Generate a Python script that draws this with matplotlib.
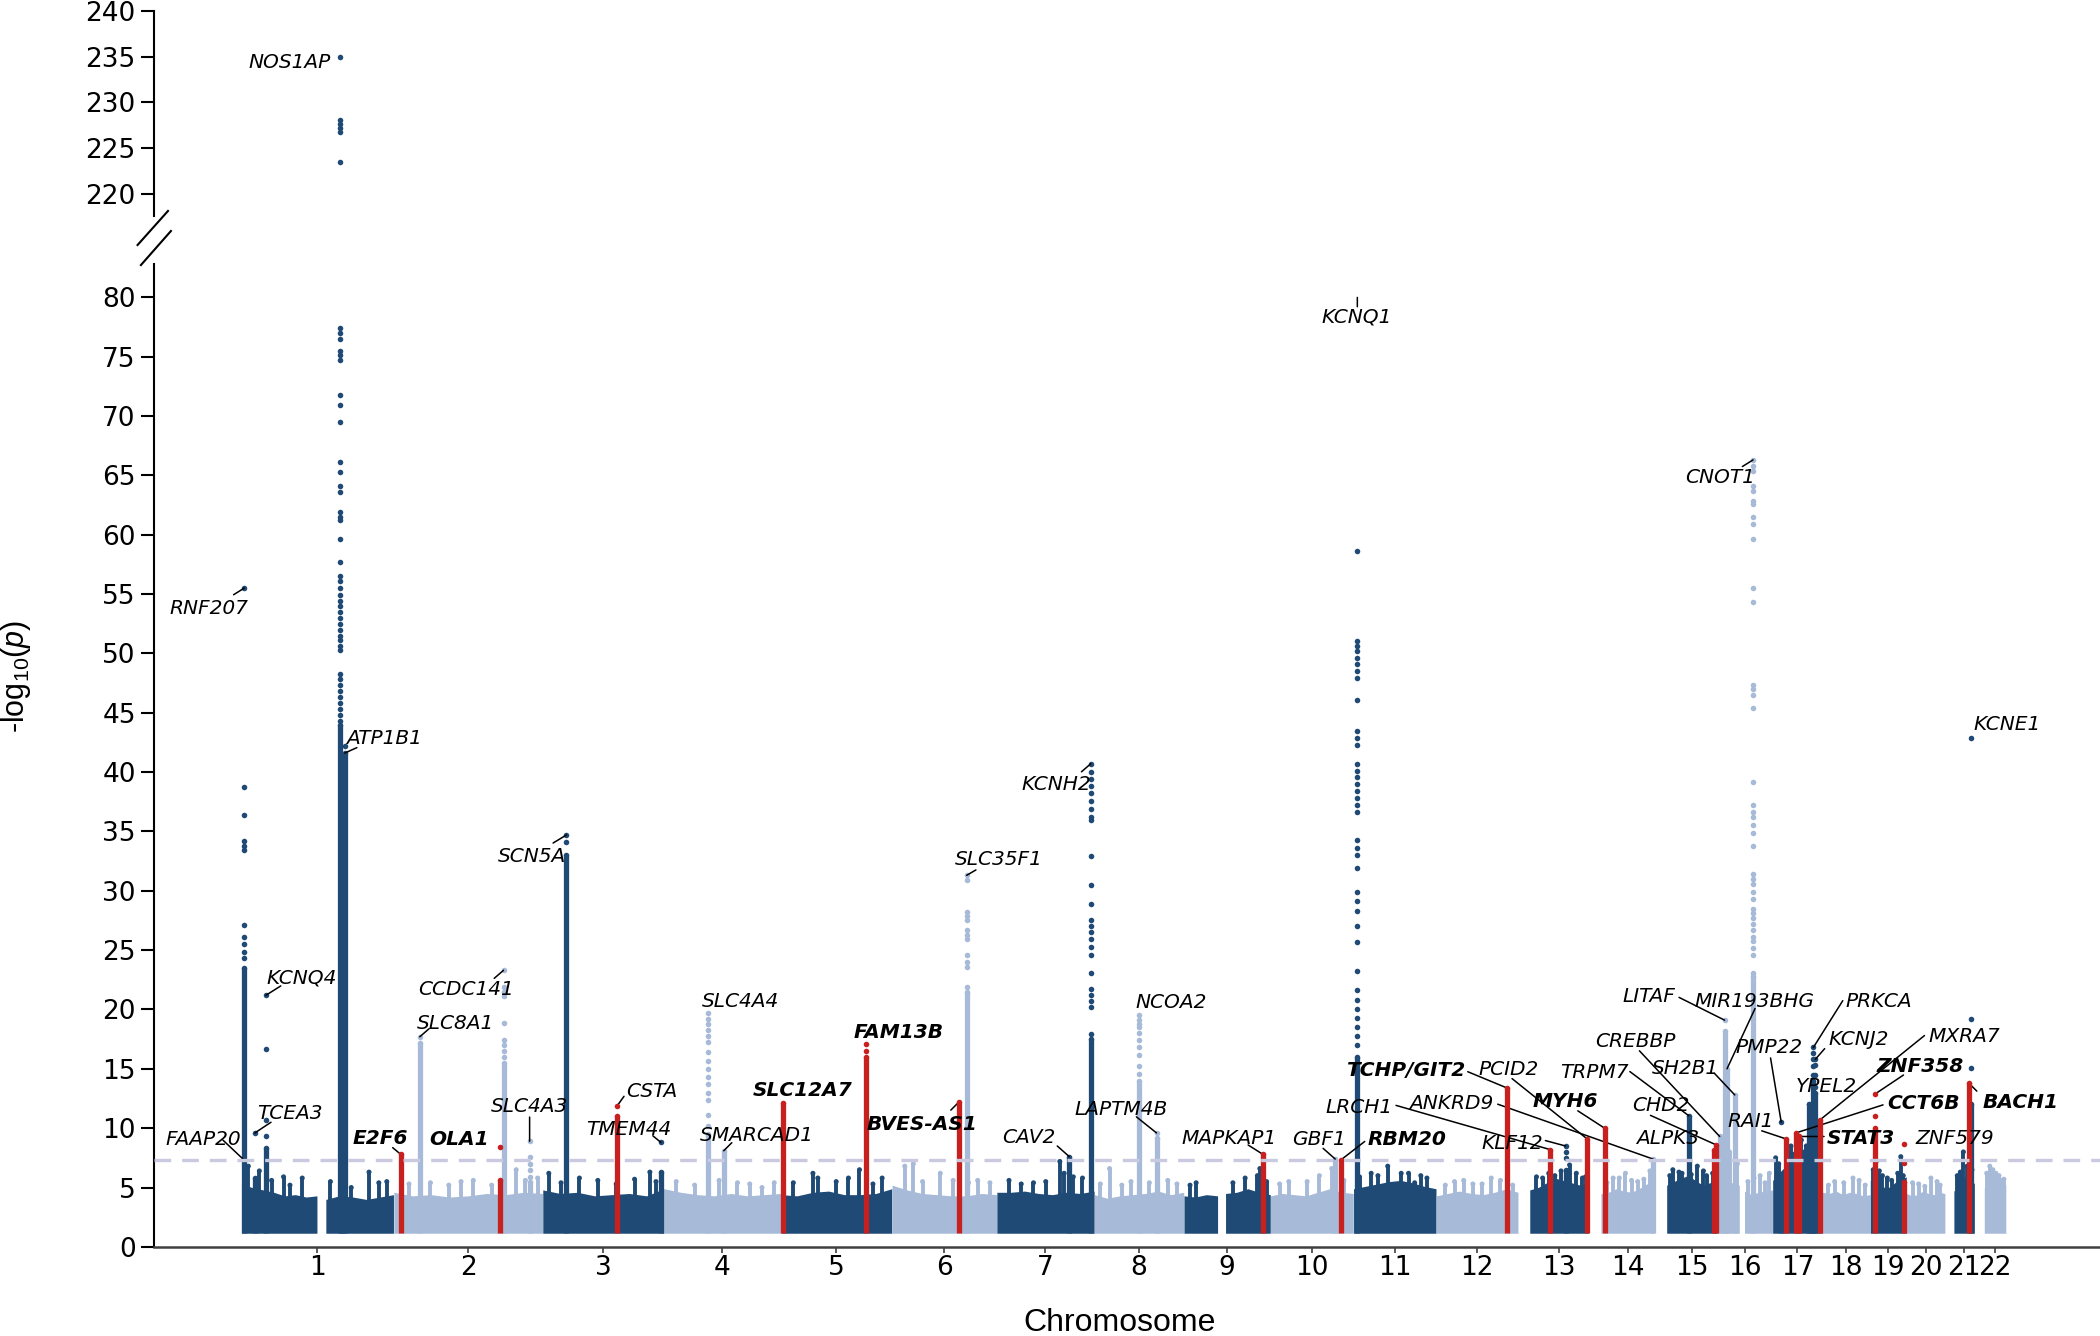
import numpy as np
import matplotlib
matplotlib.use('Agg')
import matplotlib.pyplot as plt
from matplotlib.lines import Line2D

plt.rcParams['mathtext.fontset'] = 'custom'
plt.rcParams['mathtext.rm'] = 'Liberation Sans'
plt.rcParams['mathtext.it'] = 'Liberation Sans:italic'

DARK = '#1e4a75'
LIGHT = '#a7bad8'
RED = '#c8201e'
SIG = '#c9c9e0'

# chromosome lengths (Mb) and the first position that carries SNPs
chrom_len = [249.25, 243.20, 198.02, 191.15, 180.92, 171.12, 159.14, 146.36, 141.21, 135.53, 135.01,
             133.85, 115.17, 107.35, 102.53, 90.35, 81.20, 78.08, 59.13, 63.03, 48.13, 51.30]
chrom_first = [0.8, 0.2, 0.2, 0.2, 0.2, 0.2, 0.2, 0.2, 0.2, 0.2, 0.2,
               0.2, 19.0, 20.0, 20.0, 0.1, 0.1, 0.1, 0.2, 0.1, 14.5, 16.0]
chrom_labels = [str(i) for i in range(1, 23)]

# bulk of non-significant SNPs: envelope heights along each block
bg_chr = [1, 1, 2, 3, 4, 5, 6, 7, 8, 9, 9, 10, 11, 12, 13, 14, 15, 16, 16, 17, 18, 19, 20, 21, 22]
bg_from = [0.8, 138.5, 0.2, 0.2, 0.2, 0.2, 0.2, 0.2, 0.2, 0.2, 68.0, 0.2, 0.2, 0.2, 19.0, 20.0, 20.0,
           0.1, 44.5, 0.1, 0.1, 0.2, 0.1, 14.5, 16.0]
bg_to = [124.0, 248.9, 243.0, 197.8, 190.9, 180.7, 170.9, 158.9, 146.1, 55.0, 141.0, 135.3, 134.8,
         133.6, 114.9, 107.1, 102.3, 36.0, 90.1, 81.0, 77.9, 58.9, 62.8, 47.9, 51.1]
bg_top = [
    [5.3, 5.0, 4.8, 4.6, 4.3, 4.4, 4.2, 4.3],
    [4.0, 4.3, 4.2, 4.0, 4.2, 4.4],
    [4.6, 4.3, 4.4, 4.2, 4.3, 4.5, 4.4, 4.6, 4.5],
    [4.8, 4.5, 4.6, 4.3, 4.4, 4.5, 4.3, 4.9],
    [4.9, 4.6, 4.4, 4.3, 4.5, 4.3, 4.4, 4.5],
    [4.4, 4.3, 4.6, 4.7, 4.4, 4.4, 4.5, 4.9],
    [5.2, 4.8, 4.5, 4.4, 4.3, 4.3, 4.5, 4.4],
    [4.6, 4.6, 4.7, 4.5, 4.4, 4.6, 4.5, 4.7],
    [4.4, 4.1, 4.3, 4.4, 4.5, 4.7, 4.4, 4.6],
    [4.3, 4.2, 4.4, 4.3],
    [4.5, 4.6, 4.9, 4.6, 4.4],
    [4.3, 4.5, 4.4, 4.3, 4.6, 4.9, 4.6, 4.5],
    [4.9, 5.1, 5.3, 5.5, 5.6, 5.4, 5.1, 4.9],
    [4.3, 4.5, 4.7, 4.5, 4.4, 4.6, 4.9, 4.6],
    [4.8, 5.0, 5.4, 5.8, 5.6, 5.4, 5.2, 5.4],
    [4.5, 4.6, 4.9, 4.7, 4.6, 4.9, 5.3, 5.5],
    [5.2, 5.5, 5.8, 6.0, 5.6, 5.2, 5.4, 5.6],
    [5.8, 5.6, 5.4, 5.2],
    [4.7, 4.4, 4.6, 4.7, 4.8],
    [5.6, 6.3, 6.9, 7.0, 6.6, 6.1, 5.7, 5.3],
    [4.6, 4.5, 4.7, 4.4, 4.6, 4.5, 4.3, 4.4],
    [5.6, 5.9, 5.3, 4.9, 5.1, 5.5, 5.7, 5.9],
    [4.5, 4.3, 4.4, 4.7, 4.5, 4.4, 4.6, 4.5],
    [4.7, 5.1, 5.5, 6.1, 5.9, 5.3],
    [5.0, 5.2, 5.4, 5.8, 6.0, 5.6, 5.2],
]

# small sub-threshold towers (chromosome, Mb, top)
spike_chr = [1, 1, 1, 1, 1, 1, 1, 1, 1, 1, 1,
             2, 2, 2, 2, 2, 2, 2, 2, 2,
             3, 3, 3, 3, 3, 3, 3, 3,
             4, 4, 4, 4, 4, 4, 4,
             5, 5, 5, 5, 5, 5, 5, 5,
             6, 6, 6, 6, 6, 6, 6, 6,
             7, 7, 7, 7, 7, 7, 7, 7,
             8, 8, 8, 8, 8, 8, 8,
             9, 9, 9, 9, 9, 9, 9,
             10, 10, 10, 10, 10, 10,
             11, 11, 11, 11, 11, 11, 11, 11, 11,
             12, 12, 12, 12, 12, 12, 12, 12,
             13, 13, 13, 13, 13, 13, 13, 13, 13,
             14, 14, 14, 14, 14, 14, 14, 14,
             15, 15, 15, 15, 15, 15, 15, 15, 15,
             16, 16, 16, 16, 16, 16, 16, 16,
             17, 17, 17, 17, 17, 17, 17, 17, 17, 17, 17, 17,
             18, 18, 18, 18, 18, 18,
             19, 19, 19, 19, 19, 19, 19, 19, 19,
             20, 20, 20, 20, 20, 20,
             21, 21, 21, 21, 21, 21,
             22, 22, 22, 22, 22, 22, 22]
spike_pos = [12, 30, 50, 69.5, 80, 100, 146, 180, 209, 225, 238,
             25, 60, 90, 110, 130, 160, 200, 215, 235,
             10, 30, 60, 90, 120, 150, 175, 185,
             20, 50, 90, 120, 140, 160, 180,
             20, 52, 60, 90, 110, 128, 150, 165,
             21, 35, 50, 79, 100, 125, 140, 160,
             20, 40, 60, 80, 103, 110, 125, 140,
             10, 25, 45, 60, 90, 120, 135,
             10, 20, 80, 100, 120, 124, 135,
             15, 30, 60, 80, 100, 120,
             10, 29, 40, 56, 78, 90, 100, 110, 120,
             15, 30, 45, 60, 75, 90, 105, 125,
             30, 40, 50, 60, 70, 84, 95, 105, 110,
             30, 40, 50, 60, 70, 80, 90, 100,
             25, 30, 40, 45, 60, 70, 80, 85, 95,
             5, 20, 33, 50, 60, 70, 78, 85,
             5, 10, 25, 30, 35, 47, 52, 55, 60, 63, 72, 76,
             10, 20, 35, 50, 60, 70,
             5, 10, 15, 20, 28, 35, 45, 50, 54,
             10, 20, 30, 40, 50, 55,
             20, 25, 30, 36, 40, 44,
             20, 25, 30, 35, 40, 45, 48]
spike_top = [6.8, 6.4, 5.6, 5.9, 5.2, 5.8, 5.5, 5.0, 6.3, 5.4, 5.5,
             5.3, 5.4, 5.2, 5.5, 5.6, 5.2, 6.5, 5.6, 5.8,
             6.2, 5.4, 5.8, 5.6, 5.3, 5.7, 6.3, 5.5,
             5.5, 5.2, 5.6, 5.4, 5.3, 5.0, 5.4,
             5.4, 6.2, 5.8, 5.5, 5.8, 6.5, 5.3, 5.8,
             6.8, 7.0, 5.5, 6.2, 5.6, 5.4, 5.6, 5.4,
             5.6, 5.3, 5.4, 5.5, 7.2, 6.2, 5.9, 5.8,
             5.3, 6.6, 5.2, 5.5, 5.4, 5.6, 5.3,
             5.2, 5.4, 5.4, 5.8, 6.0, 6.6, 5.5,
             5.3, 5.5, 5.5, 6.0, 6.6, 5.6,
             5.9, 6.2, 6.0, 6.8, 6.2, 6.2, 5.4, 6.0, 5.8,
             5.2, 5.5, 5.6, 5.3, 5.3, 5.8, 5.6, 5.2,
             5.9, 5.8, 6.2, 6.0, 6.4, 6.9, 6.2, 5.8, 5.9,
             5.4, 5.8, 5.8, 6.2, 5.6, 5.5, 5.7, 6.4,
             6.0, 6.5, 6.3, 6.2, 6.1, 6.8, 6.4, 6.0, 6.2,
             6.3, 8.0, 7.0, 5.5, 5.8, 6.0, 5.4, 6.2,
             7.5, 7.0, 8.0, 8.5, 7.8, 9.0, 8.0, 8.5, 12.0, 11.0, 9.0, 7.5,
             5.2, 5.5, 5.4, 5.8, 5.6, 5.2,
             6.5, 7.2, 6.4, 6.0, 5.8, 5.6, 6.2, 7.6, 6.0,
             5.4, 5.3, 5.1, 5.8, 5.5, 5.2,
             6.0, 6.3, 8.0, 6.8, 6.4, 6.5,
             6.2, 6.8, 6.5, 6.2, 6.0, 5.6, 5.7]

# associated loci: dense column top and the separate SNPs above it
peak_gene = ['FAAP20', 'TCEA3', 'KCNQ4', 'NOS1AP', 'ATP1B1', '', 'E2F6', 'SLC8A1', 'OLA1', 'CCDC141',
             'SLC4A3', 'SCN5A', 'CSTA', 'TMEM44', 'SLC4A4', 'SMARCAD1', 'SLC12A7', 'FAM13B', 'BVES-AS1',
             'SLC35F1', 'CAV2', 'KCNH2', 'NCOA2', 'LAPTM4B', 'MAPKAP1', 'GBF1', 'RBM20', 'KCNQ1',
             'TCHP/GIT2', 'LRCH1', 'KLF12', 'PCID2', 'MYH6', 'ANKRD9', 'TRPM7', 'ALPK3', 'CHD2', 'CREBBP',
             'LITAF', 'MIR193BHG', 'SH2B1', 'CNOT1', 'PMP22', 'RAI1', 'CCT6B', 'STAT3', '', '',
             'PRKCA', 'KCNJ2', 'MXRA7', 'ZNF358', 'ZNF579', 'BACH1', 'KCNE1']
peak_chr = [1, 1, 1, 1, 1, 1, 2, 2, 2, 2, 2, 3, 3, 3, 4, 4, 5, 5, 6, 6, 7, 7, 8, 8, 9, 10, 10, 11, 12,
            13, 13, 13, 14, 14, 15, 15, 15, 16, 16, 16, 16, 16, 17, 17, 17, 17, 17, 17, 17, 17, 17,
            19, 19, 21, 21]
peak_pos = [5.4, 22.7, 40.9, 161.8, 169.4, 165.5, 11.5, 42.6, 173.7, 179.3, 221.9, 38.8, 121.9, 193.0,
            72.5, 97.6, 3.5, 138.3, 109.3, 122.0, 118.5, 153.5, 73.3, 101.7, 128.9, 105.8, 114.5, 6.4,
            115.1, 52.1, 77.4, 112.5, 26.0, 105.0, 56.0, 97.0, 100.5, 4.0, 12.0, 15.9, 28.6, 58.5,
            14.1, 21.7, 38.1, 42.5, 60.0, 63.0, 66.5, 69.8, 77.4, 8.6, 56.0, 38.8, 42.1]
peak_red = [False, False, False, False, False, False, True, False, True, False, False, False, True, False,
            False, False, True, True, True, False, False, False, False, False, True, False, True, False,
            True, True, False, True, True, False, False, True, True, False, False, False, False, False,
            False, True, True, True, False, False, False, False, True, True, True, True, False]
peak_dense_top = [23.5, 5.8, 8.3, 44.0, 41.6, 30.0, 7.8, 17.2, 5.6, 15.5, 5.5, 33.0, 11.0, 6.3,
                  9.5, 8.1, 12.1, 16.0, 12.2, 21.5, 7.6, 17.5, 14.0, 9.2, 7.8, 7.4, 7.3, 16.0,
                  13.4, 8.2, 6.5, 9.1, 10.0, 7.4, 11.05, 8.2, 8.6, 9.3, 18.2, 15.0, 12.8, 22.8,
                  5.0, 9.1, 9.6, 9.3, 12.0, 11.0, 14.0, 13.0, 10.7, 10.0, 5.5, 13.8, 12.0]
peak_dots = [
    [24.3, 24.8, 25.5, 26.1, 27.1, 33.4, 33.8, 34.2, 36.4, 38.7, 55.5],
    [9.6],
    [9.3, 10.7, 16.7, 21.2],
    [44.3, 44.8, 45.3, 45.8, 46.3, 46.8, 47.3, 47.8, 48.3, 50.3, 50.6, 51.1, 51.5, 52.0, 52.5, 53.0,
     53.5, 54.0, 54.4, 54.9, 55.5, 56.1, 56.5, 57.7, 59.6, 61.2, 61.5, 61.9, 63.6, 64.1, 65.3, 66.1,
     69.5, 70.9, 71.8, 74.7, 75.1, 75.5, 76.5, 77.0, 77.4, 223.5, 226.8, 227.2, 227.6, 228.1, 235.0],
    [42.2],
    [31.5, 33.0, 35.2, 37.0],
    [],
    [17.7],
    [8.4],
    [16.0, 16.5, 17.0, 17.4, 18.9, 21.1, 21.5, 21.9, 23.3],
    [5.9, 6.5, 7.0, 7.6, 8.9],
    [34.1, 34.7],
    [11.9],
    [8.8],
    [10.2, 11.1, 12.4, 13.0, 13.7, 14.3, 15.0, 15.7, 16.4, 17.3, 17.8, 18.3, 18.8, 19.2, 19.7],
    [],
    [],
    [16.5, 17.1],
    [],
    [21.9, 23.6, 24.0, 24.6, 25.9, 26.3, 26.7, 27.5, 27.9, 28.2, 30.9, 31.3],
    [],
    [17.9, 20.2, 20.7, 21.2, 21.7, 23.1, 24.6, 25.3, 25.9, 26.5, 27.0, 27.5, 28.9, 30.5, 32.9, 36.0,
     36.2, 36.9, 37.6, 38.2, 38.8, 39.4, 40.0, 40.7],
    [14.6, 15.2, 16.2, 16.8, 17.4, 18.0, 18.5, 18.8, 19.1, 19.5],
    [9.6],
    [],
    [],
    [],
    [17.0, 17.8, 18.5, 19.3, 20.0, 20.8, 21.6, 23.2, 25.7, 27.0, 28.3, 29.1, 29.9, 31.9, 33.0, 33.6,
     34.3, 36.6, 37.2, 37.8, 38.4, 39.0, 39.6, 40.1, 40.7, 42.3, 42.9, 43.5, 46.1, 47.9, 48.5, 49.1,
     49.6, 50.2, 50.6, 51.0, 58.6],
    [],
    [],
    [7.5, 8.0, 8.5],
    [],
    [],
    [],
    [],
    [],
    [],
    [],
    [19.1],
    [],
    [],
    [23.1, 24.6, 25.2, 25.8, 26.1, 26.7, 27.2, 27.7, 28.1, 28.5, 29.3, 29.9, 30.6, 31.0, 31.4, 33.8,
     34.9, 35.5, 36.2, 36.6, 37.2, 39.2, 45.4, 46.5, 47.0, 47.3, 54.3, 55.5, 59.6, 60.9, 61.5, 62.6,
     62.8, 63.7, 64.1, 65.4, 65.8, 66.3],
    [10.5],
    [],
    [],
    [],
    [],
    [],
    [14.5, 15.2, 15.8, 16.3, 16.8],
    [13.5, 14.5, 15.3, 15.8],
    [],
    [11.0, 12.9],
    [7.1, 8.7],
    [],
    [15.1, 19.2, 42.9],
]

# gene labels: which SNP each label points at
label_text = ['NOS1AP', 'RNF207', 'ATP1B1', 'KCNQ4', 'TCEA3', 'FAAP20', 'E2F6', 'OLA1', 'SLC8A1',
              'CCDC141', 'SLC4A3', 'SCN5A', 'CSTA', 'TMEM44', 'SLC4A4', 'SMARCAD1', 'SLC12A7', 'FAM13B',
              'BVES-AS1', 'SLC35F1', 'CAV2', 'KCNH2', 'NCOA2', 'LAPTM4B', 'MAPKAP1', 'GBF1', 'RBM20',
              'KCNQ1', 'LRCH1', 'TCHP/GIT2', 'ANKRD9', 'PCID2', 'MYH6', 'KLF12', 'TRPM7', 'CHD2', 'ALPK3',
              'CREBBP', 'SH2B1', 'LITAF', 'MIR193BHG', 'CNOT1', 'PMP22', 'RAI1', 'PRKCA', 'KCNJ2',
              'YPEL2', 'MXRA7', 'ZNF358', 'CCT6B', 'STAT3', 'ZNF579', 'BACH1', 'KCNE1']
label_chr = [1, 1, 1, 1, 1, 1, 2, 2, 2, 2, 2, 3, 3, 3, 4, 4, 5, 5, 6, 6, 7, 7, 8, 8, 9, 10, 10, 11, 13,
             12, 14, 13, 14, 13, 15, 15, 15, 16, 16, 16, 16, 16, 17, 17, 17, 17, 17, 17, 19, 17, 17,
             19, 21, 21]
label_pos = [161.8, 5.4, 169.4, 40.9, 22.7, 5.4, 11.5, 173.7, 42.6, 179.3, 221.9, 38.8, 121.9, 193.0,
             72.5, 97.6, 3.5, 138.3, 109.3, 122.0, 118.5, 153.5, 73.3, 101.7, 128.9, 105.8, 114.5, 6.4,
             52.1, 115.1, 105.0, 112.5, 26.0, 77.4, 56.0, 100.5, 97.0, 4.0, 28.6, 12.0, 15.9, 58.5,
             14.1, 21.7, 66.5, 69.8, 66.5, 77.4, 8.6, 38.1, 42.5, 56.0, 38.8, 42.1]
label_val = [235.0, 55.5, 41.6, 21.2, 9.6, 7.3, 7.8, 8.4, 17.7, 23.3, 8.9, 34.7, 11.9, 8.8, 19.7, 8.1,
             12.1, 17.1, 12.2, 31.3, 7.6, 40.7, 19.5, 9.6, 7.8, 7.4, 7.3, 79.2, 8.2, 13.4, 7.4, 9.1,
             10.0, 8.5, 11.05, 8.6, 8.2, 9.3, 12.8, 19.1, 15.0, 66.3, 10.5, 9.1, 16.8, 15.8, 16.8, 10.7,
             12.9, 9.6, 9.3, 8.7, 13.8, 42.9]
label_bold = ['E2F6', 'OLA1', 'SLC12A7', 'FAM13B', 'BVES-AS1', 'RBM20', 'TCHP/GIT2', 'MYH6',
              'ZNF358', 'CCT6B', 'STAT3', 'BACH1']

# label placement: alignment, text offset (pt, to text centre), leader start offset (pt)
label_layout = {
    'NOS1AP': ('right', -6.7, -2.9, None), 'RNF207': ('left', -54.0, -13.5, (-7.7, -4.8)),
    'ATP1B1': ('left', 1.0, 11.6, (8.7, 3.9)), 'KCNQ4': ('left', 0.0, 13.5, (10.6, 6.7)),
    'TCEA3': ('left', 1.9, 15.4, (11.6, 7.7)), 'FAAP20': ('left', -56.9, 16.4, (-15.4, 14.5)),
    'E2F6': ('left', -34.7, 12.5, (-5.8, 4.8)), 'OLA1': ('left', -51.1, 6.7, None),
    'SLC8A1': ('left', -1.9, 10.6, (6.7, 5.8)), 'CCDC141': ('left', -61.7, -12.5, (-6.7, -5.8)),
    'SLC4A3': ('left', -28.0, 26.0, (0.0, 17.4)), 'SCN5A': ('left', -49.2, -14.5, (-9.6, -5.8)),
    'CSTA': ('left', 6.7, 11.6, (4.8, 6.7)), 'TMEM44': ('left', -54.0, 10.6, (-5.8, 4.8)),
    'SLC4A4': ('left', -4.8, 9.6, None), 'SMARCAD1': ('left', -17.4, 12.5, (5.8, 5.8)),
    'SLC12A7': ('left', -22.2, 10.6, None), 'FAM13B': ('left', -8.7, 9.6, None),
    'BVES-AS1': ('left', -66.5, -14.5, (-5.8, -5.8)), 'SLC35F1': ('left', -8.7, 12.5, (6.7, 3.9)),
    'CAV2': ('left', -48.2, 15.4, (-8.7, 7.7)), 'KCNH2': ('left', -50.1, -13.5, (-6.7, -5.8)),
    'NCOA2': ('left', -2.9, 10.6, None), 'LAPTM4B': ('left', -58.8, 18.3, (-14.5, 11.6)),
    'MAPKAP1': ('left', -58.8, 12.5, (-10.6, 6.7)), 'GBF1': ('left', -30.8, 15.4, (-8.7, 7.7)),
    'RBM20': ('left', 19.3, 16.4, (17.4, 13.5)), 'KCNQ1': ('left', -26.0, -5.8, (0.0, 6.7)),
    'LRCH1': ('left', -162.0, 31.8, (-110.9, 31.8)), 'TCHP/GIT2': ('left', -115.7, 13.5, (-28.0, 11.6)),
    'ANKRD9': ('left', -175.4, 41.5, (-111.8, 39.5)), 'PCID2': ('left', -78.1, 51.1, (-54.0, 43.4)),
    'MYH6': ('left', -52.1, 20.2, (-19.3, 12.5)), 'KLF12': ('left', -60.7, 2.9, (-14.5, 3.9)),
    'TRPM7': ('left', -92.5, 32.8, (-42.4, 31.8)), 'CHD2': ('left', -60.7, 29.9, (-47.2, 21.2)),
    'ALPK3': ('left', -55.9, 9.6, None), 'CREBBP': ('left', -89.7, 70.0, (-57.8, 61.7)),
    'SH2B1': ('left', -59.8, 20.2, (-14.5, 15.4)), 'LITAF': ('left', -73.3, 18.3, (-32.8, 16.4)),
    'MIR193BHG': ('left', -23.1, 50.1, (20.2, 43.4)), 'CNOT1': ('left', -49.2, -11.6, (-7.7, -4.8)),
    'PMP22': ('left', -32.8, 54.9, (-7.7, 46.3)), 'RAI1': ('left', -42.4, 13.5, (-17.4, 5.8)),
    'PRKCA': ('left', 23.1, 34.7, (21.2, 33.7)), 'KCNJ2': ('left', 9.6, 15.4, (6.7, 7.7)),
    'YPEL2': ('left', -12.5, -27.0, None), 'MXRA7': ('left', 78.1, 61.7, (75.2, 60.7)),
    'ZNF358': ('left', 1.0, 21.2, (20.2, 13.5)), 'CCT6B': ('left', 65.6, 22.2, (62.7, 20.2)),
    'STAT3': ('left', 20.2, 0.0, (18.3, 0.0)), 'ZNF579': ('left', 7.7, 4.8, None),
    'BACH1': ('left', 9.6, -12.5, (5.8, -5.8)), 'KCNE1': ('left', 1.9, 10.6, None),
}

BASE = 1.15
SIG_LINE = 7.3
LO_TOP = 82.8

chrom_offset = np.concatenate([[0.0], np.cumsum(chrom_len)[:-1]])


def gx(c, pos):
    return chrom_offset[c - 1] + pos


def chrom_color(c):
    return DARK if c % 2 == 1 else LIGHT


fig = plt.figure(figsize=(21, 13.36), dpi=100)
ax_lo = fig.add_axes([0.0733, 0.0667, 0.9267, 0.7357])
ax_hi = fig.add_axes([0.0733, 0.8383, 0.9267, 0.1537], sharex=ax_lo)

# background blocks
for c, a, b, tops in zip(bg_chr, bg_from, bg_to, bg_top):
    xs = np.linspace(gx(c, a), gx(c, b), len(tops))
    ax_lo.fill_between(xs, BASE, tops, color=chrom_color(c), lw=0, zorder=1)

sx = [gx(c, p) for c, p in zip(spike_chr, spike_pos)]
scol = [chrom_color(c) for c in spike_chr]
ax_lo.vlines(sx, BASE, spike_top, colors=scol, lw=2.8, zorder=2)
ax_lo.scatter(sx, spike_top, s=13, c=scol, lw=0, zorder=2)

# peaks
for c, p, red, top, dots in zip(peak_chr, peak_pos, peak_red, peak_dense_top, peak_dots):
    x = gx(c, p)
    col = RED if red else chrom_color(c)
    z = 4 if red else 3
    ax_lo.vlines(x, BASE, top, colors=col, lw=3.8, zorder=z)
    ys = [top] + list(dots)
    for ax in (ax_lo, ax_hi):
        ax.scatter([x] * len(ys), ys, s=16, c=col, lw=0, zorder=z)

ax_lo.axhline(SIG_LINE, color=SIG, lw=2.4, ls=(0, (5, 3.3)), zorder=5)

# labels
CAP = 5.3
for g, c, p, v in zip(label_text, label_chr, label_pos, label_val):
    ha, tdx, tdy, lead = label_layout[g]
    ax = ax_hi if v > LO_TOP else ax_lo
    xy = (gx(c, p), v)
    ax.annotate(g, xy, xytext=(tdx, tdy - CAP), textcoords='offset points', ha=ha, va='baseline',
                fontsize=14.5, fontstyle='italic', fontweight='bold' if g in label_bold else 'normal',
                zorder=7, annotation_clip=False)
    if lead is not None:
        ax.annotate('', xy, xytext=lead, textcoords='offset points', annotation_clip=False,
                    arrowprops=dict(arrowstyle='-', color='black', lw=1.1, shrinkA=0, shrinkB=0))

# axes styling
first = np.array(chrom_first)
last = np.array(chrom_len) - 0.3
ticks = chrom_offset + (first + last) / 2
ax_lo.set_xlim(-142.1, 3034.6)
ax_lo.set_ylim(0, LO_TOP)
ax_hi.set_ylim(217.6, 240)
ax_lo.set_xticks(ticks)
ax_lo.set_xticklabels(chrom_labels)
ax_lo.set_yticks(np.arange(0, 81, 5))
ax_hi.set_yticks(np.arange(220, 241, 5))

for ax in (ax_lo, ax_hi):
    ax.set_facecolor('none')
    ax.spines['top'].set_visible(False)
    ax.spines['right'].set_visible(False)
    ax.spines['left'].set_linewidth(1.5)
    ax.tick_params(axis='y', length=9.6, width=1.5, pad=3.5, labelsize=19)
ax_hi.spines['bottom'].set_visible(False)
ax_hi.tick_params(axis='x', bottom=False, labelbottom=False)
ax_lo.spines['bottom'].set_linewidth(1.8)
ax_lo.spines['bottom'].set_color('#404040')
ax_lo.tick_params(axis='x', length=4, width=1.2, pad=2, labelsize=19, color='#404040')

# axis break marks
for (x0, y0), (x1, y1) in [((0.0655, 0.8166), (0.0800, 0.8421)), ((0.0671, 0.8016), (0.0814, 0.8271))]:
    fig.add_artist(Line2D([x0, x1], [y0, y1], transform=fig.transFigure, color='black', lw=1.5))

fig.text(0.0076, 0.494, r'-log$_{10}$($\mathit{p}$)', rotation=90, ha='center', va='center',
         fontsize=22, family='Liberation Sans')
fig.text(0.533, 0.0095, 'Chromosome', ha='center', va='center', fontsize=23, family='Liberation Sans')

fig.savefig('out.png', dpi=100)
